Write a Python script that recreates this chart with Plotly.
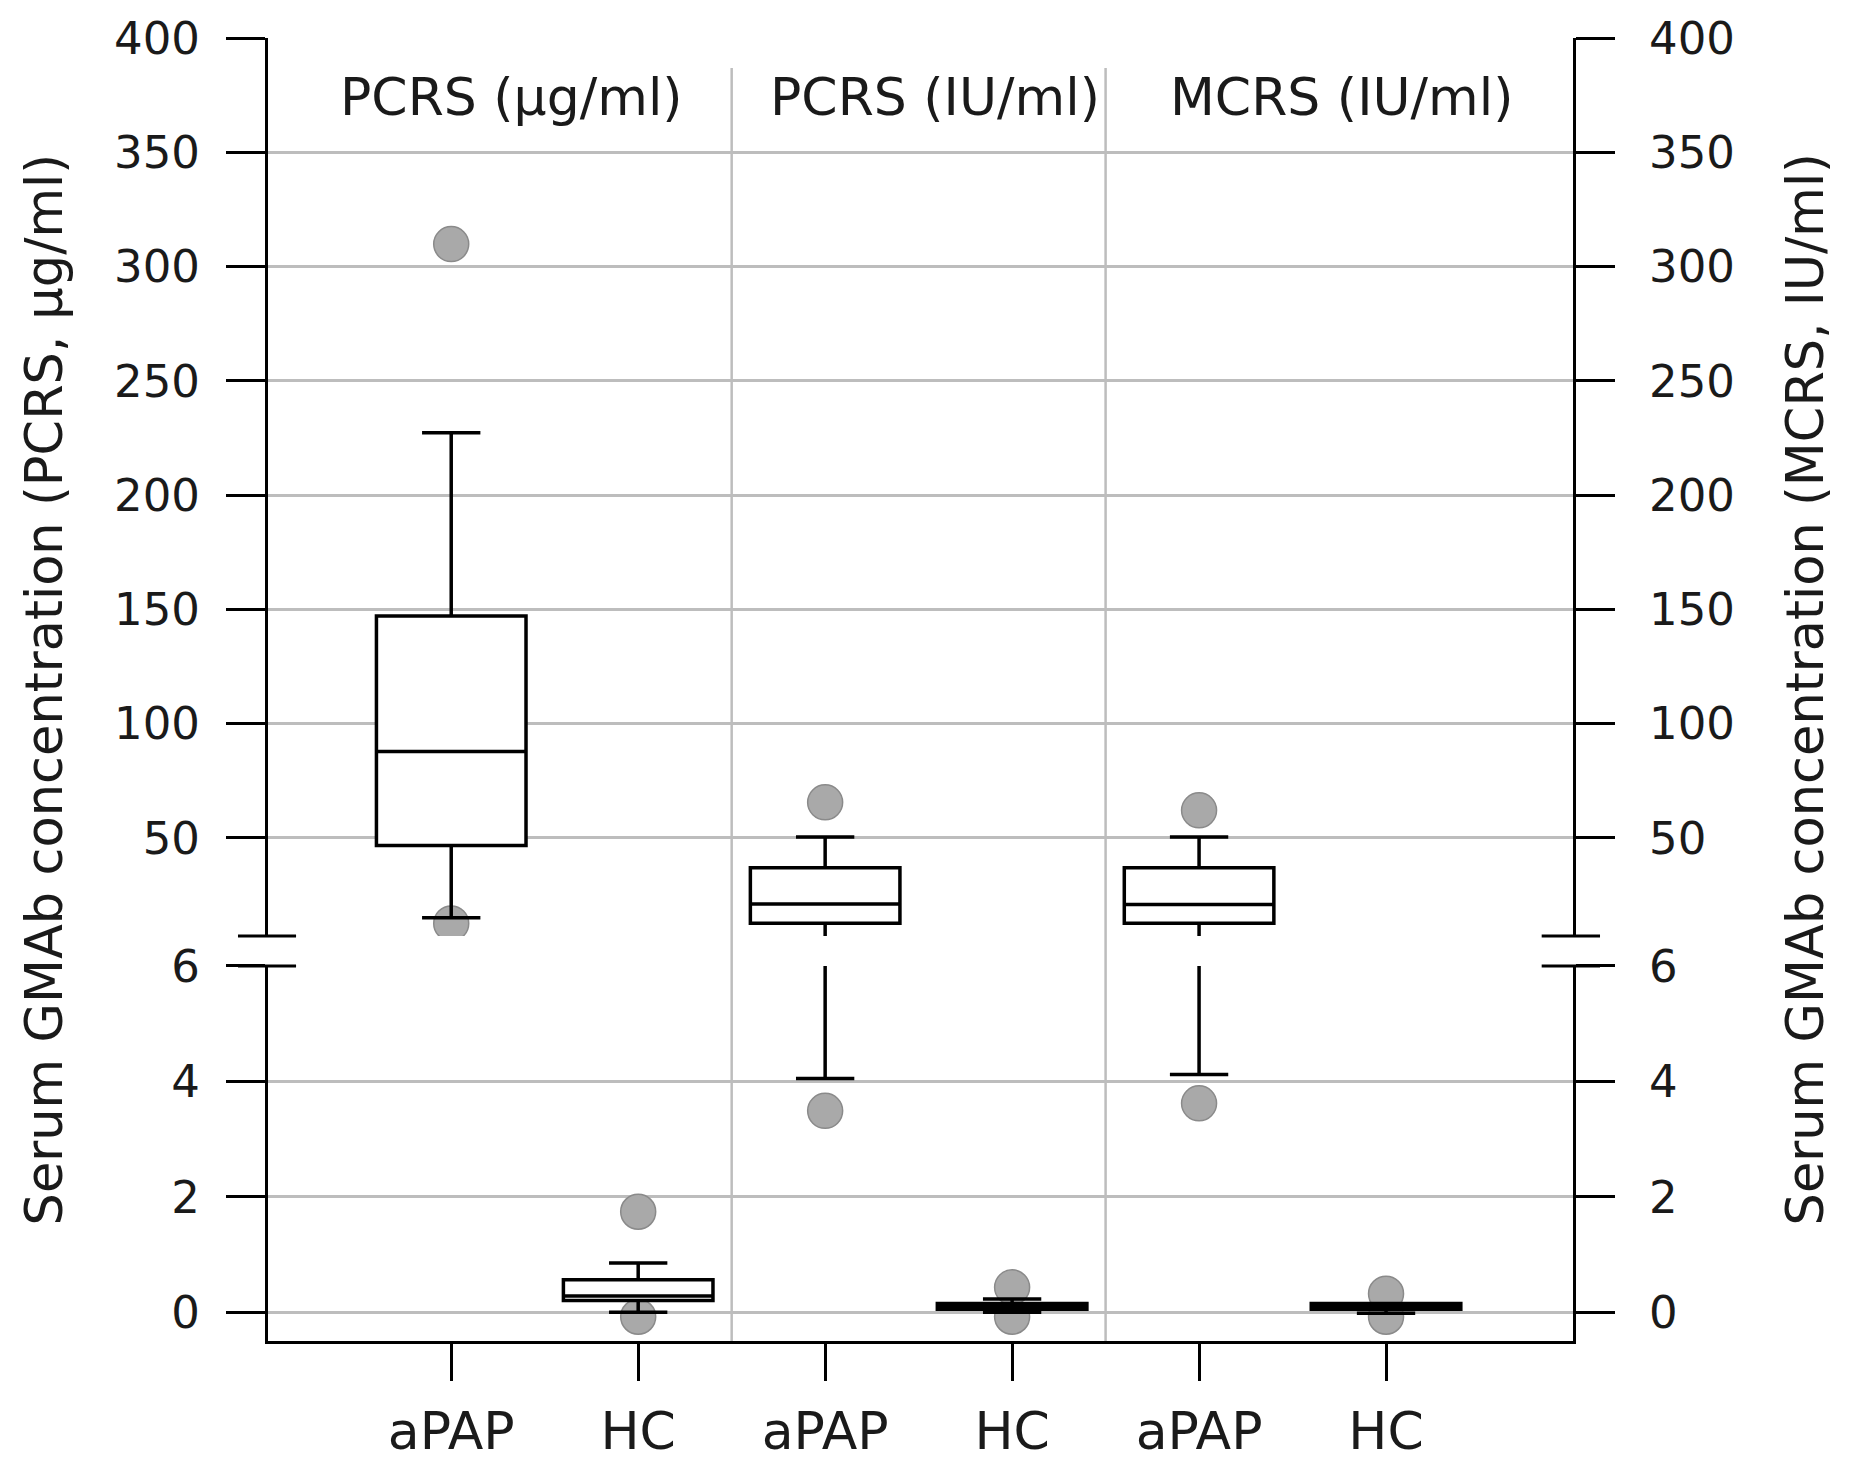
import plotly.graph_objects as go

# --- data ---
groups = ["aPAP", "HC", "aPAP", "HC", "aPAP", "HC"]
positions = [0, 1, 2, 3, 4, 5]
q1 = [46.6, 0.20, 12.6, 0.05, 12.6, 0.05]
median = [87.8, 0.28, 21.0, 0.10, 20.8, 0.10]
q3 = [147.0, 0.56, 36.9, 0.15, 36.9, 0.15]
lower = [15.0, 0.0, 4.05, 0.0, 4.12, -0.02]
upper = [227.3, 0.85, 50.3, 0.23, 50.3, 0.15]
outliers = [[309.8, 12.5], [1.74, -0.08], [65.5, 3.49], [0.43, -0.08], [62.0, 3.62], [0.32, -0.08]]

panel_titles = ["PCRS (\u00b5g/ml)", "PCRS (IU/ml)", "MCRS (IU/ml)"]
panel_x = [0.32, 2.59, 4.76]
separators = [1.5, 3.5]

ticks_low = [0, 2, 4, 6]
ticks_high = [50, 100, 150, 200, 250, 300, 350, 400]
range_low = [-0.5, 6]
range_high = [7, 400]

FONT = "DejaVu Sans"
TXT = "#1a1a1a"
GRID = "#bdbdbd"

fig = go.Figure()

# outlier points first (as box points) so whiskers draw over them
segments = [("y", range_low), ("y2", range_high)]
for pos, pts in zip(positions, outliers):
    for yax, rng in segments:
        vals = [v for v in pts if rng[0] - 1 <= v <= rng[1]]
        if not vals:
            continue
        fig.add_trace(go.Box(
            x=[pos] * len(vals), y=vals, yaxis=yax,
            boxpoints="all", jitter=0, pointpos=0, width=0.8,
            fillcolor="rgba(0,0,0,0)", line=dict(width=0, color="rgba(0,0,0,0)"),
            marker=dict(size=35, color="#a9a9a9", line=dict(color="#8a8a8a", width=1.5)),
            showlegend=False, hoverinfo="skip",
        ))

# boxes, drawn on both halves of the broken axis
for yax in ["y", "y2"]:
    for i, pos in enumerate(positions):
        fig.add_trace(go.Box(
            x=[pos], q1=[q1[i]], median=[median[i]], q3=[q3[i]],
            lowerfence=[lower[i]], upperfence=[upper[i]],
            yaxis=yax, boxpoints=False, width=0.8, whiskerwidth=0.39,
            fillcolor="white", line=dict(color="black", width=3.5),
            showlegend=False,
        ))

# dummy traces so the right-hand axes are drawn
fig.add_trace(go.Scatter(x=[None], y=[None], yaxis="y3", showlegend=False))
fig.add_trace(go.Scatter(x=[None], y=[None], yaxis="y4", showlegend=False))

dom_low = [0, 0.2878]
dom_high = [0.3108, 1]

yax_common = dict(
    showline=True, linecolor="black", linewidth=3,
    ticks="outside", ticklen=39, tickwidth=3, tickcolor="black",
    zeroline=False, tickfont=dict(size=45, color=TXT, family=FONT),
    anchor="x", automargin=False,
)

fig.update_layout(
    width=1857, height=1467,
    paper_bgcolor="white", plot_bgcolor="white",
    margin=dict(l=260, r=292, t=30, b=134),
    font=dict(family=FONT, color=TXT),
    xaxis=dict(
        range=[-0.98, 6.0], tickvals=positions, ticktext=groups,
        showline=True, linecolor="black", linewidth=3,
        ticks="outside", ticklen=37, tickwidth=3, tickcolor="black",
        showgrid=False, zeroline=False, ticklabelstandoff=6, automargin=False,
        tickfont=dict(size=52, color=TXT, family=FONT),
    ),
    yaxis=dict(domain=dom_low, range=range_low, tickvals=ticks_low,
               showgrid=True, gridcolor=GRID, gridwidth=2.5,
               ticklabelstandoff=17, **yax_common),
    yaxis2=dict(domain=dom_high, range=range_high, tickvals=ticks_high,
                showgrid=True, gridcolor=GRID, gridwidth=2.5,
                ticklabelstandoff=17, **yax_common),
    yaxis3=dict(overlaying="y", side="right", range=range_low, tickvals=ticks_low,
                showgrid=False, ticklabelstandoff=25, **yax_common),
    yaxis4=dict(overlaying="y2", side="right", range=range_high, tickvals=ticks_high,
                showgrid=False, ticklabelstandoff=25, **yax_common),
)

# panel separators
for sx in separators:
    fig.add_shape(type="line", xref="x", yref="paper", x0=sx, x1=sx, y0=0, y1=0.977,
                  line=dict(color=GRID, width=2.5), layer="below")

# axis-break marks on both sides
for yb in [dom_low[1], dom_high[0]]:
    for xa, xb in [(-0.023, 0.0215), (0.976, 1.0207)]:
        fig.add_shape(type="line", xref="paper", yref="paper", x0=xa, x1=xb, y0=yb, y1=yb,
                      line=dict(color="black", width=3))

# panel titles
for t, px in zip(panel_titles, panel_x):
    fig.add_annotation(text=t, x=px, y=374, xref="x", yref="y2", showarrow=False,
                       font=dict(size=52, color=TXT, family=FONT))

# axis titles
fig.add_annotation(text="Serum GMAb concentration (PCRS, \u00b5g/ml)", x=-0.1709, y=0.5,
                   xref="paper", yref="paper", textangle=-90, showarrow=False,
                   xanchor="center", yanchor="middle", font=dict(size=51, color=TXT, family=FONT))
fig.add_annotation(text="Serum GMAb concentration (MCRS, IU/ml)", x=1.1785, y=0.5,
                   xref="paper", yref="paper", textangle=-90, showarrow=False,
                   xanchor="center", yanchor="middle", font=dict(size=51, color=TXT, family=FONT))

fig.write_html("out.html")
